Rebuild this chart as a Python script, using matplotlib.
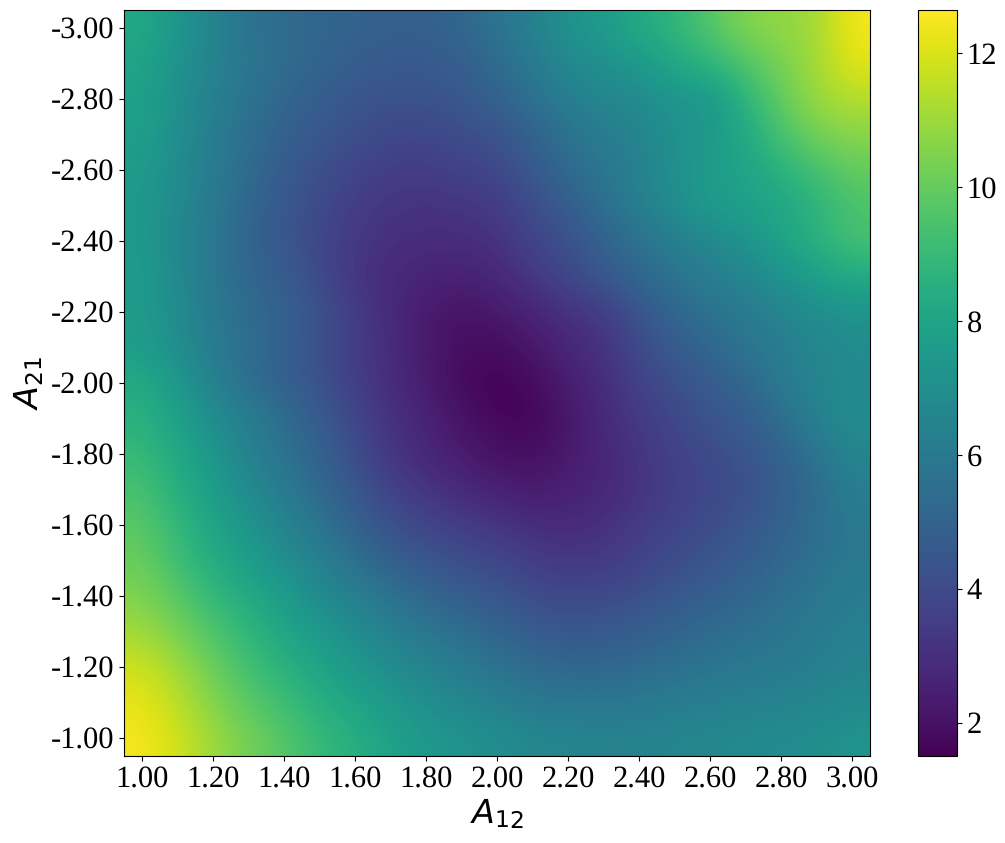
import numpy as np
import matplotlib
matplotlib.use("Agg")
import matplotlib.pyplot as plt

plt.rcParams['text.hinting'] = 'no_hinting'

a12 = [1.0 + 0.1 * i for i in range(21)]
a21 = [-3.0 + 0.1 * i for i in range(21)]
loss = [
    [8.2, 7.4, 6.5, 5.7, 5.4, 5.2, 5.0, 4.9, 4.9, 5.2, 5.8, 6.4, 7.2, 7.6, 8.3, 8.8, 9.7, 10.6, 10.8, 11.1, 12.5],
    [8.0, 7.2, 6.5, 5.9, 5.4, 5.1, 4.8, 4.6, 4.6, 4.8, 5.4, 6.0, 6.8, 7.0, 7.5, 8.2, 8.8, 9.6, 10.4, 11.1, 12.2],
    [7.9, 7.1, 6.3, 5.7, 5.2, 4.8, 4.4, 4.3, 4.3, 4.5, 5.0, 5.6, 6.3, 6.6, 6.8, 7.3, 7.3, 8.8, 10.0, 11.0, 11.4],
    [7.8, 7.0, 6.2, 5.5, 4.9, 4.5, 4.2, 3.9, 3.9, 4.1, 4.3, 5.0, 5.7, 6.2, 6.5, 7.2, 7.5, 8.2, 9.5, 10.3, 10.7],
    [7.6, 6.9, 6.1, 5.4, 4.7, 4.2, 3.8, 3.5, 3.5, 3.7, 3.9, 4.6, 5.3, 5.9, 6.4, 7.0, 7.6, 8.0, 8.6, 9.4, 10.0],
    [7.5, 6.8, 6.0, 5.2, 4.5, 4.0, 3.5, 3.2, 3.1, 3.2, 3.4, 4.1, 4.8, 5.6, 6.3, 7.1, 7.6, 7.8, 8.1, 8.7, 9.5],
    [7.5, 6.7, 5.9, 5.1, 4.5, 3.9, 3.3, 3.0, 2.9, 2.9, 3.1, 3.8, 4.2, 5.0, 5.6, 6.2, 6.7, 7.3, 8.0, 8.6, 9.4],
    [7.6, 6.8, 5.9, 5.2, 4.7, 4.0, 3.2, 2.8, 2.6, 2.5, 2.7, 3.3, 3.9, 4.6, 5.3, 5.8, 6.2, 6.6, 7.2, 7.8, 8.3],
    [7.6, 6.9, 6.0, 5.4, 5.0, 4.3, 3.5, 2.8, 2.3, 2.0, 2.3, 2.6, 3.1, 3.4, 4.4, 5.2, 5.7, 6.1, 6.5, 7.0, 7.2],
    [7.7, 7.0, 6.1, 5.5, 4.9, 4.2, 3.5, 2.9, 2.3, 1.9, 1.8, 2.2, 2.7, 3.1, 4.0, 4.7, 5.2, 5.8, 6.2, 6.6, 6.9],
    [8.3, 7.5, 6.4, 5.5, 4.9, 4.3, 3.5, 2.9, 2.3, 1.8, 1.5, 1.8, 2.4, 2.9, 3.7, 4.2, 4.7, 5.2, 6.1, 6.6, 6.8],
    [8.6, 7.9, 7.0, 6.2, 5.5, 4.7, 3.9, 3.1, 2.6, 2.1, 1.7, 1.6, 2.2, 2.8, 3.4, 3.9, 4.4, 4.8, 5.5, 6.4, 7.0],
    [9.0, 8.2, 7.4, 6.4, 5.7, 5.0, 4.1, 3.2, 2.7, 2.3, 2.0, 1.9, 2.3, 2.7, 3.2, 3.7, 4.0, 4.4, 5.0, 5.8, 6.6],
    [9.4, 8.5, 7.7, 6.8, 6.1, 5.3, 4.5, 3.7, 3.2, 2.8, 2.5, 2.3, 2.5, 2.7, 3.1, 3.6, 3.9, 4.2, 4.8, 5.4, 6.3],
    [9.8, 8.9, 8.0, 7.3, 6.5, 5.8, 5.0, 4.2, 3.8, 3.5, 3.2, 2.9, 2.8, 3.0, 3.5, 3.8, 4.1, 4.5, 5.0, 5.5, 6.0],
    [10.1, 9.2, 8.4, 7.7, 7.0, 6.3, 5.6, 4.9, 4.5, 4.1, 3.9, 3.5, 3.3, 3.4, 3.7, 4.1, 4.4, 4.8, 5.2, 5.7, 6.0],
    [10.5, 9.8, 8.9, 8.3, 7.6, 6.9, 6.3, 5.7, 5.2, 4.8, 4.5, 4.1, 3.9, 4.0, 4.2, 4.6, 4.9, 5.2, 5.6, 5.9, 6.2],
    [11.1, 10.3, 9.6, 8.8, 8.1, 7.5, 6.9, 6.4, 5.9, 5.5, 5.1, 4.7, 4.5, 4.6, 4.8, 5.1, 5.4, 5.6, 5.8, 6.1, 6.4],
    [11.8, 11.1, 10.1, 9.3, 8.6, 8.0, 7.4, 6.9, 6.5, 6.1, 5.7, 5.4, 5.2, 5.2, 5.4, 5.6, 5.8, 6.0, 6.1, 6.3, 6.5],
    [12.3, 11.5, 10.6, 9.8, 9.2, 8.5, 8.0, 7.5, 7.0, 6.7, 6.3, 6.0, 5.9, 5.9, 6.0, 6.2, 6.3, 6.4, 6.5, 6.6, 6.8],
    [12.5, 11.9, 11.0, 10.3, 9.7, 9.0, 8.5, 7.9, 7.5, 7.2, 7.0, 6.7, 6.6, 6.5, 6.5, 6.6, 6.7, 6.8, 6.9, 7.0, 7.3],
]
xtick_vals = [1.0, 1.2, 1.4, 1.6, 1.8, 2.0, 2.2, 2.4, 2.6, 2.8, 3.0]
ytick_vals = [-3.0, -2.8, -2.6, -2.4, -2.2, -2.0, -1.8, -1.6, -1.4, -1.2, -1.0]
xlabels = ["1.00", "1.20", "1.40", "1.60", "1.80", "2.00", "2.20", "2.40", "2.60", "2.80", "3.00"]
ylabels = ["-3.00", "-2.80", "-2.60", "-2.40", "-2.20", "-2.00", "-1.80", "-1.60", "-1.40", "-1.20", "-1.00"]
cbar_ticks = [2, 4, 6, 8, 10, 12]

W, H = 1005, 843
fig = plt.figure(figsize=(W / 100, H / 100), dpi=100)
ax = fig.add_axes([124 / W, 1 - 756 / H, (870 - 124) / W, (756 - 10) / H])
cax = fig.add_axes([918 / W, 1 - 756 / H, (957 - 918) / W, (756 - 10) / H])

im = ax.imshow(loss, cmap="viridis", interpolation="bicubic", aspect="auto",
               extent=[0.95, 3.05, -0.95, -3.05], vmin=1.5, vmax=12.65)
ax.set_xticks(xtick_vals)
ax.set_xticklabels(xlabels, family="Liberation Serif", fontsize=22)
ax.set_yticks(ytick_vals)
ax.set_yticklabels(ylabels, family="Liberation Serif", fontsize=22)
ax.set_xlabel(r"$A_{12}$", fontsize=24, labelpad=2)
ax.set_ylabel(r"$A_{21}$", fontsize=24, labelpad=4)

cb = fig.colorbar(im, cax=cax)
cb.set_ticks(cbar_ticks)
cb.ax.set_yticklabels([str(t) for t in cbar_ticks], family="Liberation Serif", fontsize=22)

fig.savefig("out.png", dpi=100)
